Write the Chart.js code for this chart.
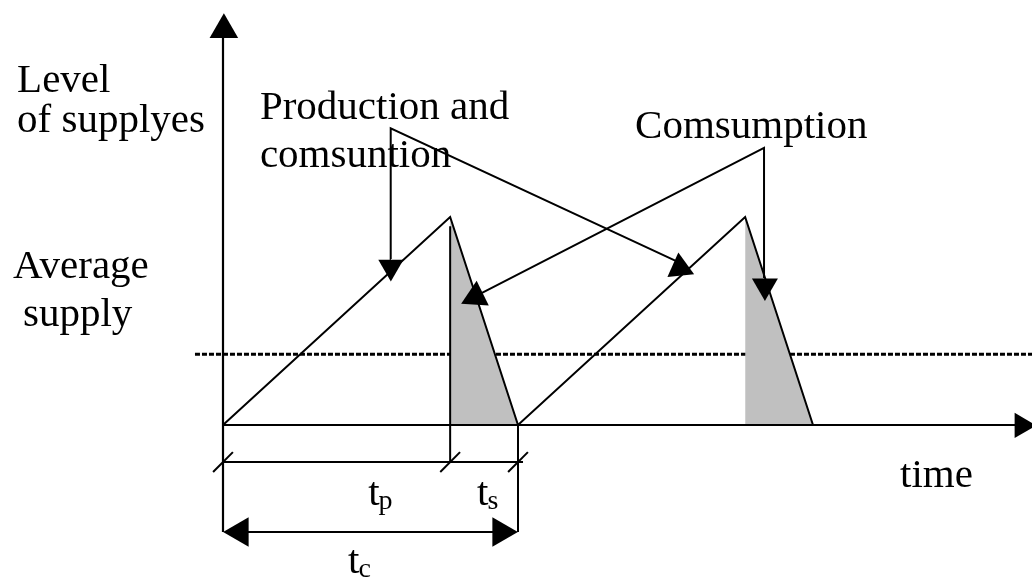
<!DOCTYPE html>
<html><head><meta charset="utf-8">
<script src="https://cdn.jsdelivr.net/npm/chart.js@4/dist/chart.umd.min.js"></script>
<style>html,body{margin:0;padding:0;background:#fff;overflow:hidden}#wrap{position:relative;width:1032px;height:580px}</style>
</head><body><div id="wrap"><canvas id="c"></canvas></div>
<script>
// ---- data (time in units where t_c = 10, supply level in units where peak = 10) ----
const cycleTimes    = [0, 7.7, 10, 17.7, 20];
const supplyLevels  = [0, 10, 0, 10, 0];
const consumeStart  = [7.7, 17.7];
const consumeEnd    = [10, 20];
const peakLevel     = 10;
const averageSupply = 3.4;
const tP = 7.7, tC = 10;

// annotation connectors (end, junction, end)
const prodConnX = [5.69, 5.685, 15.42];
const prodConnY = [7.98, 14.26, 7.84];
const consConnX = [18.34, 18.34, 8.78];
const consConnY = [7.07, 13.32, 6.35];

// arrowheads
const arrowX   = [0.03, 27.08, 5.69, 15.49, 8.56, 18.37, 0.58, 9.42];
const arrowY   = [19.0, -0.02, 7.60, 7.55, 6.17, 6.68, -5.14, -5.14];
const arrowRot = [0, 90, 180, -6, 4, 180, 270, 90];
const arrowR   = [16.5, 14.5, 14.5, 15.5, 16, 15, 17, 17];

// dimension lines
const dimLineY  = -1.78;
const arrowLineY = -5.14;
const tickX = [0, tP, tC];

// text labels
const labelTexts = ['Level', 'of supplyes', 'Average', 'supply', 'Production and', 'comsuntion', 'Comsumption', 'time'];
const labelX = [-6.98, -6.98, -7.12, -6.78, 1.25, 1.25, 13.97, 22.95];
const labelY = [16.01, 14.09, 7.07, 4.76, 14.71, 12.40, 13.80, -2.98];
const symbolMain = ['t', 't', 't'];
const symbolSub  = ['p', 's', 'c'];
const symbolX = [4.92, 8.61, 4.24];
const symbolY = [-3.85, -3.85, -7.12];

const pts = (xs, ys) => xs.map((x, i) => ({x, y: ys[i]}));
const BLACK = '#000';
const lineDs = (data, extra) => Object.assign({
  data, borderColor: BLACK, borderWidth: 2, pointRadius: 0, fill: false, order: 0
}, extra || {});

const datasets = [];
// sawtooth
datasets.push(lineDs(pts(cycleTimes, supplyLevels)));
// grey consumption areas
consumeStart.forEach((s, i) => datasets.push(lineDs(
  [{x: s, y: peakLevel}, {x: consumeEnd[i], y: 0}],
  {borderWidth: 0, borderColor: 'rgba(0,0,0,0)', backgroundColor: '#c0c0c0', fill: 'origin', order: 2}
)));
// average supply dotted line
datasets.push(lineDs([{x: -0.95, y: averageSupply}, {x: 27.6, y: averageSupply}],
  {borderWidth: 3, borderDash: [5, 2], order: 3}));
// axes
datasets.push(lineDs([{x: 0, y: arrowLineY}, {x: 0, y: 18.6}], {borderWidth: 2.2}));
datasets.push(lineDs([{x: 0, y: 0}, {x: 26.85, y: 0}], {borderWidth: 2.2}));
// extension lines
datasets.push(lineDs([{x: tP, y: 9.55}, {x: tP, y: dimLineY - 0.05}]));
datasets.push(lineDs([{x: tC, y: 0}, {x: tC, y: arrowLineY}]));
// dimension line t_p / t_s
datasets.push(lineDs([{x: 0, y: dimLineY}, {x: 10.17, y: dimLineY}]));
// double arrow line t_c
datasets.push(lineDs([{x: 0.5, y: arrowLineY}, {x: 9.5, y: arrowLineY}]));
// connectors
datasets.push(lineDs(pts(prodConnX, prodConnY)));
datasets.push(lineDs(pts(consConnX, consConnY)));
// arrowheads
datasets.push({
  data: pts(arrowX, arrowY), showLine: false, pointStyle: 'triangle',
  pointRadius: arrowR, pointRotation: arrowRot, pointBackgroundColor: BLACK,
  pointBorderColor: BLACK, pointBorderWidth: 0, order: 0
});
// slanted ticks
datasets.push({
  data: tickX.map(x => ({x, y: dimLineY})), showLine: false, pointStyle: 'line',
  pointRadius: 14, pointRotation: -45, pointBorderColor: BLACK, pointBorderWidth: 2, order: 0
});

const textPlugin = {
  id: 'texts',
  afterDatasetsDraw(chart) {
    const {ctx} = chart;
    const sx = chart.scales.x, sy = chart.scales.y;
    ctx.save();
    ctx.fillStyle = BLACK;
    ctx.textBaseline = 'alphabetic';
    ctx.textAlign = 'left';
    ctx.font = '41px "Liberation Serif", "Times New Roman", serif';
    labelTexts.forEach((t, i) => ctx.fillText(t, sx.getPixelForValue(labelX[i]), sy.getPixelForValue(labelY[i])));
    symbolMain.forEach((t, i) => {
      const x = sx.getPixelForValue(symbolX[i]), y = sy.getPixelForValue(symbolY[i]);
      ctx.font = '41px "Liberation Serif", "Times New Roman", serif';
      ctx.fillText(t, x, y);
      const w = ctx.measureText(t).width;
      ctx.font = '28px "Liberation Serif", "Times New Roman", serif';
      ctx.fillText(symbolSub[i], x + w - 1, y + 4);
    });
    ctx.restore();
  }
};

new Chart(document.getElementById('c'), {
  type: 'line',
  data: {datasets},
  options: {
    responsive: true, maintainAspectRatio: false, animation: false,
    layout: {padding: 0, autoPadding: false},
    plugins: {legend: {display: false}, tooltip: {enabled: false}},
    events: [],
    scales: {
      x: {type: 'linear', display: false, min: -223 / 29.5, max: (1032 - 223) / 29.5},
      y: {type: 'linear', display: false, min: -155 / 20.8, max: 425 / 20.8}
    }
  },
  plugins: [textPlugin]
});
</script></body></html>
